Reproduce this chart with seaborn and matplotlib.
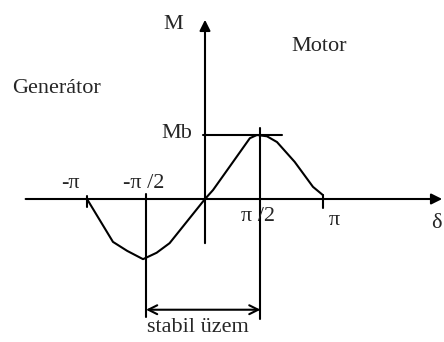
import numpy as np
import pandas as pd
import seaborn as sns
import matplotlib.pyplot as plt

# Terhelési szög (pi egységben) és nyomaték (Mb egységben)
delta = [-1.0, -0.78, -0.66, -0.525, -0.41, -0.30, 0.0, 0.068, 0.23, 0.38,
         0.44, 0.525, 0.61, 0.76, 0.915, 1.0]
nyomatek = [0.0, -0.67, -0.81, -0.94, -0.84, -0.69, 0.0, 0.14, 0.56, 0.95,
            1.0, 0.98, 0.89, 0.58, 0.19, 0.06]
tick_pos = [-1.0, -0.5, 0.5, 1.0]
tick_labels = ['-π', '-π /2', 'π /2', 'π']

df = pd.DataFrame({'delta': delta, 'M': nyomatek})

sns.set_style('white')
plt.rcParams['font.family'] = ['Liberation Serif', 'DejaVu Serif']

fig = plt.figure(figsize=(4.44, 3.42), dpi=100)
ax = fig.add_axes([0, 0, 1, 1])
ax.set_xlim(-205 / 118, 239 / 118)
ax.set_ylim((199 - 342) / 64, 199 / 64)
ax.axis('off')

lw = 1.5
sns.lineplot(data=df, x='delta', y='M', sort=False, color='black', lw=lw, ax=ax)

# tengelyek nyíllal
ax.annotate('', xy=(2.01, 0), xytext=(-1.52, 0),
            arrowprops=dict(arrowstyle='-|>', color='black', lw=lw,
                            mutation_scale=16, shrinkA=0, shrinkB=0))
ax.annotate('', xy=(0, 2.8), xytext=(0, -0.69),
            arrowprops=dict(arrowstyle='-|>', color='black', lw=lw,
                            mutation_scale=16, shrinkA=0, shrinkB=0))

# osztások
ax.plot([-1, -1], [0.05, -0.12], color='black', lw=lw)
ax.plot([1, 1], [0.06, -0.14], color='black', lw=lw)
ax.plot([-0.5, -0.5], [0.08, -1.84], color='black', lw=lw)
ax.plot([0.47, 0.47], [1.11, -1.875], color='black', lw=lw)
ax.plot([-0.02, 0.65], [1.0, 1.0], color='black', lw=lw)

# stabil üzem nyíl
ax.annotate('', xy=(0.47, -1.73), xytext=(-0.5, -1.73),
            arrowprops=dict(arrowstyle='<->', color='black', lw=lw,
                            mutation_scale=16, shrinkA=0, shrinkB=0))

fs = 16
label_x = [-1.14, -0.52, 0.45, 1.10]
label_y = [0.25, 0.25, -0.28, -0.34]
for xx, lab, y in zip(label_x, tick_labels, label_y):
    ax.text(xx, y, lab, fontsize=fs, ha='center', va='center')

ax.text(-0.27, 2.73, 'M', fontsize=fs, ha='center', va='center')
ax.text(-0.24, 1.02, 'Mb', fontsize=fs, ha='center', va='center')
ax.text(-1.26, 1.73, 'Generátor', fontsize=fs, ha='center', va='center')
ax.text(0.97, 2.39, 'Motor', fontsize=fs, ha='center', va='center')
ax.text(1.96, -0.375, 'δ', fontsize=fs, ha='center', va='center')
ax.text(-0.06, -2.0, 'stabil üzem', fontsize=fs, ha='center', va='center')

plt.savefig('out.png', dpi=100)
